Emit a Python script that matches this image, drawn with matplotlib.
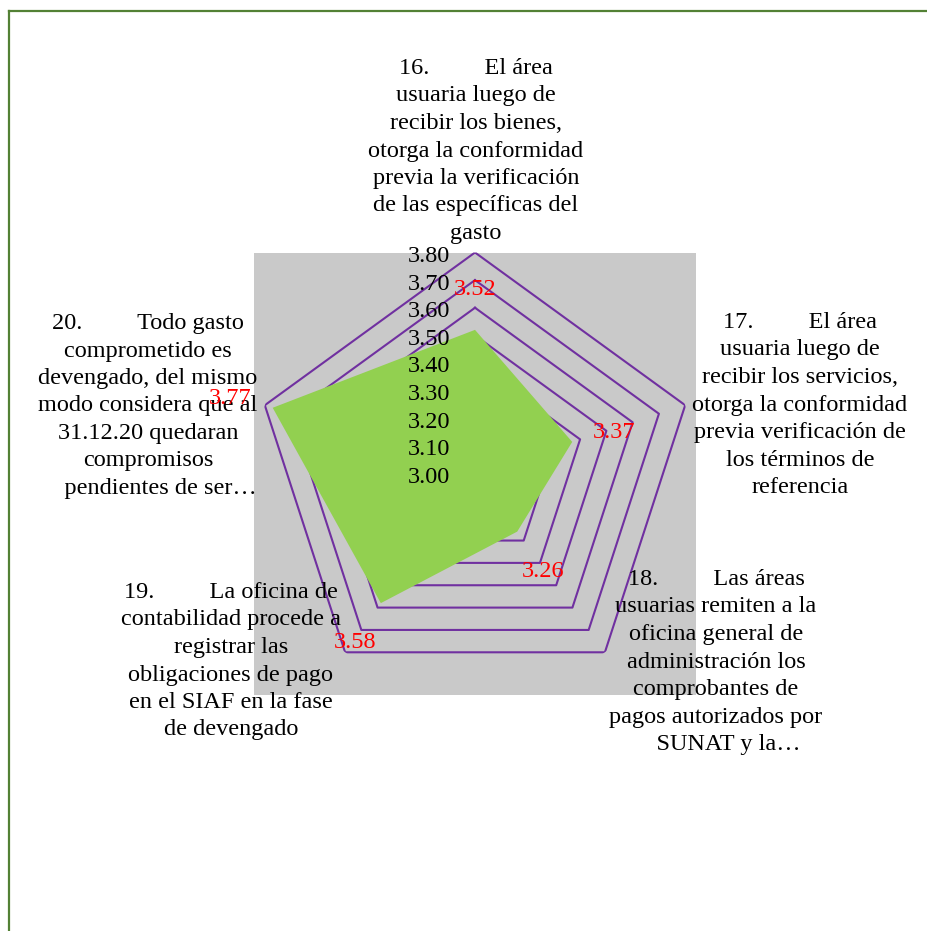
import numpy as np
import matplotlib as mpl
import matplotlib.pyplot as plt
from matplotlib.patches import Rectangle
from matplotlib.lines import Line2D

mpl.use('Agg')

# survey items (axis labels) and their mean scores
categories = [
    '16.         El área\nusuaria luego de\nrecibir los bienes,\notorga la conformidad\n'
    'previa la verificación\nde las específicas del\ngasto',
    '17.         El área\nusuaria luego de\nrecibir los servicios,\notorga la conformidad\n'
    'previa verificación de\nlos términos de\nreferencia',
    '18.         Las áreas\nusuarias remiten a la\noficina general de\nadministración los\n'
    'comprobantes de\npagos autorizados por\n    SUNAT y la…',
    '19.         La oficina de\ncontabilidad procede a\nregistrar las\nobligaciones de pago\n'
    'en el SIAF en la fase\nde devengado',
    '20.         Todo gasto\ncomprometido es\ndevengado, del mismo\nmodo considera que al\n'
    '31.12.20 quedaran\ncompromisos\n    pendientes de ser…',
]
scores = [3.52, 3.37, 3.26, 3.58, 3.77]
levels = [3.00, 3.10, 3.20, 3.30, 3.40, 3.50, 3.60, 3.70, 3.80]
tick_labels = ['3.00', '3.10', '3.20', '3.30', '3.40', '3.50', '3.60', '3.70', '3.80']

# label block anchors in pixels: centre x, first baseline y (from top)
label_anchor = [(476, 74), (800, 328), (716, 585), (231, 598), (148, 329)]
line_step = 27.5

W, H = 928, 931
font = 'Liberation Serif'
fs = 17.5

fig = plt.figure(figsize=(W / 100, H / 100), dpi=100)

cx, cy, R = 475, 473.5, 221
ax = fig.add_axes([(cx - R) / W, (H - cy - R) / H, 2 * R / W, 2 * R / H], projection='polar')
ax.set_theta_offset(np.pi / 2)
ax.set_theta_direction(-1)
ax.set_ylim(levels[0], levels[-1])
ax.grid(False)
ax.set_xticks([])
ax.set_yticks([])
ax.spines['polar'].set_visible(False)
ax.patch.set_visible(False)

# grey plot area
ax.add_patch(Rectangle((0, 0), 1, 1, transform=ax.transAxes, facecolor='#C9C9C9',
                       edgecolor='none', zorder=0, clip_on=False))

n = len(scores)
theta = np.arange(n) * 2 * np.pi / n
theta_c = np.append(theta, theta[0])

# pentagon gridlines
for lv in levels[1:]:
    ax.plot(theta_c, [lv] * (n + 1), color='#7030A0', lw=1.5, zorder=1)

ax.fill(theta_c, scores + scores[:1], color='#92D050', lw=0, zorder=2)

# radial scale labels along the first axis
for lv, lbl in zip(levels, tick_labels):
    ax.annotate(lbl, xy=(0, lv), xytext=(-25, -4), textcoords='offset pixels',
                ha='right', va='center', fontsize=fs, family=font, zorder=6)

# category labels
for text, (x, y0) in zip(categories, label_anchor):
    for j, line in enumerate(text.split('\n')):
        ax.text(x / W, 1 - (y0 + j * line_step) / H, line, transform=fig.transFigure,
                ha='center', va='baseline', fontsize=fs, family=font, zorder=4)

# value labels, pushed out past each vertex
for t, v in zip(theta, scores):
    ax.annotate(f'{v:.2f}', xy=(t, v + 0.16), xytext=(0, -4), textcoords='offset pixels',
                color='red', ha='center', va='center', fontsize=fs, family=font,
                annotation_clip=False, zorder=5)

# page border
fig.add_artist(Line2D([9 / W, 9 / W], [0, 1 - 11 / H], color='#538135', lw=1.6))
fig.add_artist(Line2D([9 / W, 1], [1 - 11 / H, 1 - 11 / H], color='#538135', lw=1.6))

fig.savefig('out.png', dpi=100)
